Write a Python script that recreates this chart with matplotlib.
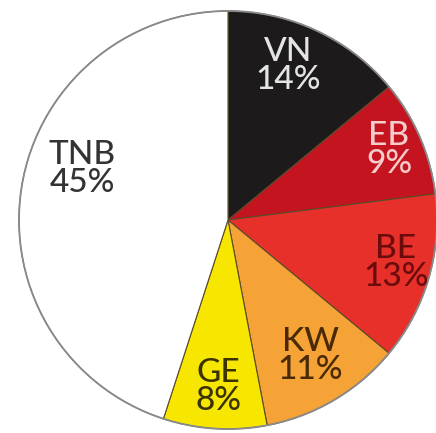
import matplotlib.pyplot as plt
import numpy as np
from matplotlib.patches import Circle

# shares, clockwise from 12 o'clock
labels = ['VN', 'EB', 'BE', 'KW', 'GE', 'TNB']
shares = [14, 9, 13, 11, 8, 45]
colors = ['#1c1a1a', '#c3141f', '#e8302a', '#f5a236', '#f7e600', '#ffffff']
text_colors = ['#e4e4e4', '#f6cccc', '#6a0c0c', '#4a2a05', '#3a3300', '#333333']

# label placement (fraction of radius, angle in degrees)
label_r = [0.79, 0.84, 0.83, 0.76, 0.80, 0.74]
label_ang = [68.7, 23.5, -14.4, -58.7, -93.4, 160.7]

W, H = 436, 433
cx, cy, R = 228, 220, 209

fig = plt.figure(figsize=(W / 100, H / 100), dpi=100)
ax = fig.add_axes([0, 0, 1, 1])

wedges, _ = ax.pie(shares, colors=colors, startangle=90, counterclock=False,
                   wedgeprops=dict(edgecolor='#5a4a2a', linewidth=0.8))
ax.add_patch(Circle((0, 0), 1, fill=False, edgecolor='#8a8a8a', linewidth=1.3))

for lab, val, tc, r, a in zip(labels, shares, text_colors, label_r, label_ang):
    t = np.deg2rad(a)
    ax.text(r * np.cos(t), r * np.sin(t), f'{lab}\n{val}%', ha='center', va='center',
            color=tc, fontsize=24, family='Lato', fontweight='medium', linespacing=0.9)

ax.set_xlim(-cx / R, (W - cx) / R)
ax.set_ylim(-(H - cy) / R, cy / R)
ax.set_aspect('auto')
ax.axis('off')

fig.savefig('out.png', dpi=100, facecolor='white')
